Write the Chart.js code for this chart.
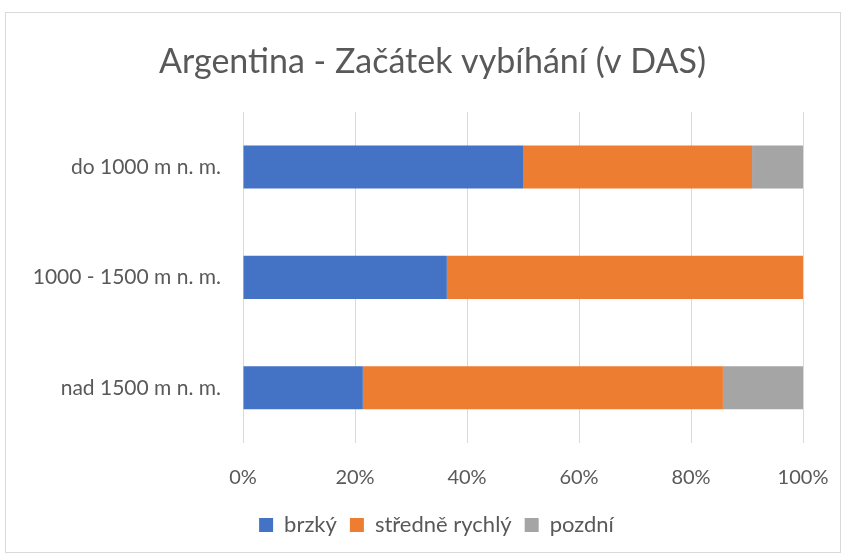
<!DOCTYPE html>
<html>
<head>
<meta charset="utf-8">
<script src="https://cdn.jsdelivr.net/npm/chart.js@4"></script>
<style>
  html, body { margin: 0; padding: 0; background: #fff; }
  #wrap { width: 846px; height: 555px; position: relative; }
</style>
</head>
<body>
<div id="wrap"><canvas id="chart" width="846" height="555"></canvas></div>
<script>
const categories = ['do 1000 m n. m.', '1000 - 1500 m n. m.', 'nad 1500 m n. m.'];
const brzky = [50.0, 36.4, 21.4];
const stredneRychly = [40.9, 63.6, 64.3];
const pozdni = [9.1, 0, 14.3];
const tickLabels = ['0%', '20%', '40%', '60%', '80%', '100%'];

const textColor = '#595959';
const fontFamily = 'Lato, "Open Sans", sans-serif';

// rámeček kolem celého grafu + posun nadpisu a legendy na střed plochy
const borderPlugin = {
  id: 'outerBorder',
  afterLayout(chart) {
    if (chart.titleBlock) chart.titleBlock.left = 62;
    if (chart.legend) chart.legend.left = 70;
  },
  beforeDraw(chart) {
    const ctx = chart.ctx;
    ctx.save();
    ctx.fillStyle = '#fff';
    ctx.fillRect(0, 0, chart.width, chart.height);
    ctx.strokeStyle = '#d9d9d9';
    ctx.lineWidth = 1;
    ctx.strokeRect(5.5, 12.5, 835, 540);
    ctx.restore();
  }
};

const ctx = document.getElementById('chart').getContext('2d');
new Chart(ctx, {
  type: 'bar',
  data: {
    labels: categories,
    datasets: [
      { label: 'brzký', data: brzky, backgroundColor: '#4472c4' },
      { label: 'středně rychlý', data: stredneRychly, backgroundColor: '#ed7d31' },
      { label: 'pozdní', data: pozdni, backgroundColor: '#a5a5a5' },
    ],
  },
  options: {
    indexAxis: 'y',
    responsive: false,
    animation: false,
    layout: { padding: { left: 15, right: 43, top: 20, bottom: 9 } },
    datasets: { bar: { categoryPercentage: 1, barPercentage: 0.39 } },
    plugins: {
      title: {
        display: true,
        text: 'Argentina - Začátek vybíhání (v DAS)',
        color: textColor,
        font: { family: fontFamily, size: 34, weight: 'normal' },
        padding: { top: 22, bottom: 29 },
      },
      legend: {
        position: 'bottom',
        labels: {
          color: textColor,
          font: { family: fontFamily, size: 22 },
          boxWidth: 14,
          boxHeight: 14,
          padding: 13,
        },
      },
      tooltip: { enabled: false },
    },
    scales: {
      x: {
        stacked: true,
        min: 0,
        max: 100,
        ticks: {
          stepSize: 20,
          color: textColor,
          font: { family: fontFamily, size: 20 },
          padding: 0,
          callback: (v, i) => tickLabels[i],
        },
        grid: { color: '#d9d9d9', tickColor: 'rgba(0,0,0,0)', tickLength: 23 },
        border: { display: false },
        afterFit: (s) => { s.height = 58; },
      },
      y: {
        stacked: true,
        ticks: {
          color: textColor,
          font: { family: fontFamily, size: 21 },
          padding: 14,
        },
        grid: { display: false },
        border: { display: false },
        afterFit: (s) => { s.width = 228; },
      },
    },
  },
  plugins: [borderPlugin],
});
</script>
</body>
</html>
